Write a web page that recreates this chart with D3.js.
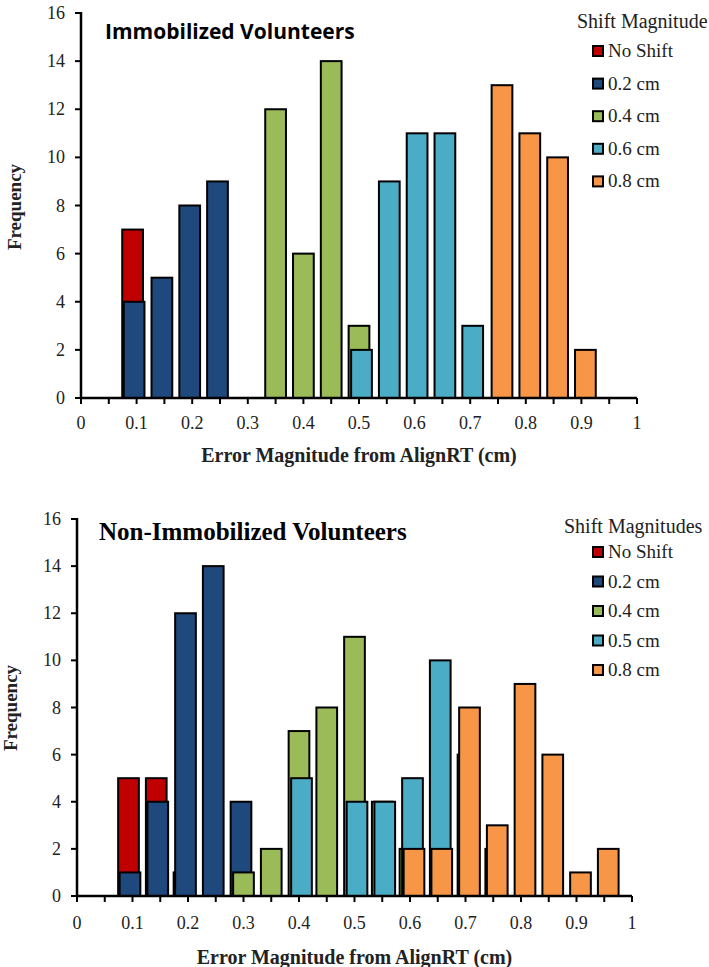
<!DOCTYPE html>
<html>
<head>
<meta charset="utf-8">
<script src="https://cdn.jsdelivr.net/npm/d3@7"></script>
</head>
<body style="margin:0">
<svg id="chart" width="709" height="967"></svg>
<script>
// ---------- DATA ----------
const seriesColors = ["#C00000", "#1F497D", "#9BBB59", "#4BACC6", "#F79646"];

// Top panel: Immobilized Volunteers
const topTitle = "Immobilized Volunteers";
const topLegendTitle = "Shift Magnitude";
const topSeriesNames = ["No Shift", "0.2 cm", "0.4 cm", "0.6 cm", "0.8 cm"];
const topBins      = [0.10, 0.15, 0.20, 0.25, 0.30, 0.35, 0.40, 0.45, 0.50, 0.55, 0.60, 0.65, 0.70, 0.75, 0.80, 0.85, 0.90];
const topNoShift   = [7,    0,    0,    0,    0,    0,    0,    0,    0,    0,    0,    0,    0,    0,    0,    0,    0];
const top02cm      = [4,    5,    8,    9,    0,    0,    0,    0,    0,    0,    0,    0,    0,    0,    0,    0,    0];
const top04cm      = [0,    0,    0,    0,    0,    12,   6,    14,   3,    0,    0,    0,    0,    0,    0,    0,    0];
const top06cm      = [0,    0,    0,    0,    0,    0,    0,    0,    2,    9,    11,   11,   3,    0,    0,    0,    0];
const top08cm      = [0,    0,    0,    0,    0,    0,    0,    0,    0,    0,    0,    0,    0,    13,   11,   10,   2];

// Bottom panel: Non-Immobilized Volunteers
const botTitle = "Non-Immobilized Volunteers";
const botLegendTitle = "Shift Magnitudes";
const botSeriesNames = ["No Shift", "0.2 cm", "0.4 cm", "0.5 cm", "0.8 cm"];
const botBins      = [0.10, 0.15, 0.20, 0.25, 0.30, 0.35, 0.40, 0.45, 0.50, 0.55, 0.60, 0.65, 0.70, 0.75, 0.80, 0.85, 0.90, 0.95];
const botNoShift   = [5,    5,    1,    0,    0,    0,    0,    0,    0,    0,    0,    0,    0,    0,    0,    0,    0,    0];
const bot02cm      = [1,    4,    12,   14,   4,    0,    0,    0,    0,    0,    0,    0,    0,    0,    0,    0,    0,    0];
const bot04cm      = [0,    0,    0,    0,    1,    2,    7,    8,    11,   4,    2,    0,    0,    0,    0,    0,    0,    0];
const bot05cm      = [0,    0,    0,    0,    0,    0,    5,    0,    4,    4,    5,    10,   6,    2,    0,    0,    0,    0];
const bot08cm      = [0,    0,    0,    0,    0,    0,    0,    0,    0,    0,    2,    2,    8,    3,    9,    6,    1,    2];

const yTicks = [0, 2, 4, 6, 8, 10, 12, 14, 16];
const xMajorTicks = [0, 0.1, 0.2, 0.3, 0.4, 0.5, 0.6, 0.7, 0.8, 0.9, 1];
const xMinorTicks = d3.range(0, 21).map(i => i / 20);
const xAxisTitle = "Error Magnitude from AlignRT (cm)";
const yAxisTitle = "Frequency";

// ---------- DRAW ----------
const svg = d3.select("#chart");
const SERIF = "Liberation Serif";
const SANS = "Open Sans";

function label(parent, family, size, weight) {
  return parent.append("text")
    .style("font-family", family)
    .style("font-size", size + "px")
    .style("font-weight", weight || "normal");
}

function drawPanel(cfg) {
  const g = svg.append("g");
  const x = d3.scaleLinear().domain([0, 1]).range([cfg.x0, cfg.x1]);
  const y = d3.scaleLinear().domain([0, 16]).range([cfg.y0, cfg.y1]);
  const barW = x(0.0373) - x(0);
  const offsets = [-4, -2.5, 0, 2.5, 4];

  cfg.series.forEach((vals, si) => {
    const data = cfg.bins.map((b, i) => ({ b, v: vals[i] })).filter(d => d.v > 0);
    g.append("g").selectAll("rect").data(data).join("rect")
      .attr("x", d => x(d.b) + offsets[si] - barW / 2)
      .attr("y", d => y(d.v))
      .attr("width", barW)
      .attr("height", d => y(0) - y(d.v))
      .attr("fill", seriesColors[si])
      .attr("stroke", "#000")
      .attr("stroke-width", 2);
  });

  // axis lines
  g.append("line").attr("x1", cfg.x0).attr("x2", x(1)).attr("y1", y(0)).attr("y2", y(0))
    .attr("stroke", "#000").attr("stroke-width", 2.5);
  g.append("line").attr("x1", x(0)).attr("x2", x(0)).attr("y1", y(0) + 1).attr("y2", y(16) - 1)
    .attr("stroke", "#000").attr("stroke-width", 2.5);

  // x ticks every 0.05
  g.append("g").selectAll("line").data(xMinorTicks).join("line")
    .attr("x1", d => x(d)).attr("x2", d => x(d))
    .attr("y1", y(0)).attr("y2", y(0) + 6)
    .attr("stroke", "#000").attr("stroke-width", 2);
  // x labels every 0.1
  const xlab = g.append("g");
  xMajorTicks.forEach(t => {
    label(xlab, SERIF, 18)
      .attr("x", x(t)).attr("y", y(0) + cfg.xLabelDy)
      .attr("text-anchor", "middle").attr("fill", "#222")
      .text(String(+t.toFixed(1)));
  });

  // y ticks + labels
  g.append("g").selectAll("line").data(yTicks).join("line")
    .attr("x1", x(0) - 6).attr("x2", x(0))
    .attr("y1", d => y(d)).attr("y2", d => y(d))
    .attr("stroke", "#000").attr("stroke-width", 2);
  const ylab = g.append("g");
  yTicks.forEach(t => {
    label(ylab, SERIF, 18)
      .attr("x", x(0) - 16).attr("y", y(t) + 6)
      .attr("text-anchor", "end").attr("fill", "#222")
      .text(String(t));
  });

  // axis titles
  label(g, SERIF, 20, "bold")
    .attr("x", (cfg.x0 + cfg.x1) / 2).attr("y", cfg.xTitleY + 7)
    .attr("text-anchor", "middle")
    .attr("fill", "#222").text(xAxisTitle);
  label(g, SERIF, 19, "bold")
    .attr("transform", `translate(${cfg.yTitleX + 6},${cfg.yTitleY}) rotate(-90)`)
    .attr("text-anchor", "middle")
    .attr("fill", "#222").text(yAxisTitle);

  // chart title
  label(g, cfg.titleFont, cfg.titleSize, "bold")
    .attr("x", cfg.titleX).attr("y", cfg.titleY + cfg.titleSize * 0.36)
    .attr("fill", "#000").text(cfg.title);

  // legend
  label(g, SERIF, 20)
    .attr("x", cfg.legendTitleX).attr("y", cfg.legendTitleY + 7)
    .attr("fill", "#222").text(cfg.legendTitle);
  cfg.names.forEach((name, i) => {
    const cy = cfg.legendY0 + i * cfg.legendStep;
    g.append("rect")
      .attr("x", 593).attr("y", cy - 5).attr("width", 10).attr("height", 10)
      .attr("fill", seriesColors[i])
      .attr("stroke", "#000").attr("stroke-width", 2);
    label(g, SERIF, 19)
      .attr("x", 608).attr("y", cy + 6)
      .attr("fill", "#222").text(name);
  });
}

drawPanel({
  x0: 81, x1: 637, y0: 398, y1: 13,
  bins: topBins,
  series: [topNoShift, top02cm, top04cm, top06cm, top08cm],
  names: topSeriesNames,
  title: topTitle, titleX: 105, titleY: 31, titleFont: SANS, titleSize: 21,
  legendTitle: topLegendTitle, legendTitleX: 577, legendTitleY: 21,
  legendY0: 51, legendStep: 32.6,
  xLabelDy: 31, xTitleY: 455, yTitleX: 15, yTitleY: 207
});

drawPanel({
  x0: 77, x1: 632, y0: 896, y1: 519,
  bins: botBins,
  series: [botNoShift, bot02cm, bot04cm, bot05cm, bot08cm],
  names: botSeriesNames,
  title: botTitle, titleX: 99, titleY: 531, titleFont: SERIF, titleSize: 25,
  legendTitle: botLegendTitle, legendTitleX: 564, legendTitleY: 526,
  legendY0: 552, legendStep: 29.5,
  xLabelDy: 33, xTitleY: 957, yTitleX: 11, yTitleY: 708
});
</script>
</body>
</html>
